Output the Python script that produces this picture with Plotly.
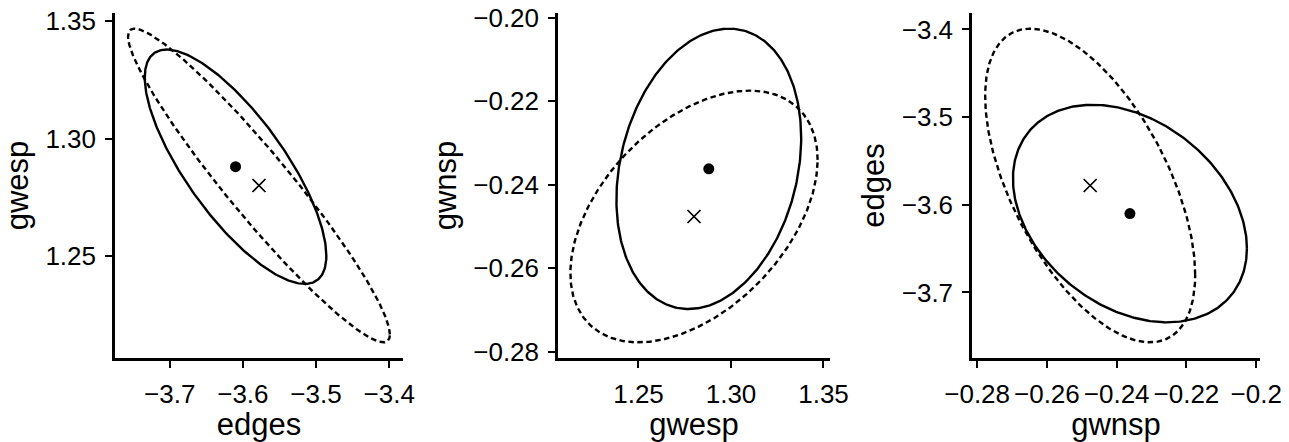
import numpy as np
import plotly.graph_objects as go

# Parameters shown in the three pairwise panels
params = ["edges", "gwesp", "gwnsp"]

# Point estimates: fitted model (filled dot, solid ellipse) and
# reference model (cross, dashed ellipse)
est_fit = [-3.610, 1.288, -0.2362]
est_ref = [-3.578, 1.280, -0.2476]

# Standard errors of each estimate
se_fit = [0.0507, 0.0204, 0.0137]
se_ref = [0.0731, 0.0273, 0.0123]

# Pairwise correlations for (edges, gwesp), (gwesp, gwnsp), (gwnsp, edges)
cor_fit = [-0.76, 0.22, -0.32]
cor_ref = [-0.95, 0.45, -0.57]

# Tick positions and labels
edges_ticks = [-3.7, -3.6, -3.5, -3.4]
edges_labels = ["\u22123.7", "\u22123.6", "\u22123.5", "\u22123.4"]
gwesp_ticks = [1.25, 1.30, 1.35]
gwesp_labels = ["1.25", "1.30", "1.35"]
gwnsp_ticks = [-0.28, -0.26, -0.24, -0.22, -0.20]
gwnsp_labels_y = ["\u22120.28", "\u22120.26", "\u22120.24", "\u22120.22", "\u22120.20"]
gwnsp_labels_x = ["\u22120.28", "\u22120.26", "\u22120.24", "\u22120.22", "\u22120.2"]

# 95% confidence level radius for a bivariate normal
LEVEL_RADIUS = np.sqrt(-2.0 * np.log(0.05))


def ellipse(center, se, rho, n=361):
    """Confidence ellipse for a pair of estimates with given SEs and correlation."""
    t = np.linspace(0, 2 * np.pi, n)
    x = center[0] + LEVEL_RADIUS * se[0] * np.cos(t)
    y = center[1] + LEVEL_RADIUS * se[1] * (rho * np.cos(t) + np.sqrt(1 - rho ** 2) * np.sin(t))
    return x, y


pairs = [(0, 1), (1, 2), (2, 0)]
x_domains = [[0.0892, 0.3126], [0.4329, 0.6439], [0.7541, 0.9775]]
y_domain = [0.190, 0.9706]

tick_info = {
    0: (edges_ticks, edges_labels, edges_labels),
    1: (gwesp_ticks, gwesp_labels, gwesp_labels),
    2: (gwnsp_ticks, gwnsp_labels_x, gwnsp_labels_y),
}

FONT = "Liberation Sans, Arial, Helvetica, sans-serif"
TICK_SIZE = 26
TITLE_SIZE = 31

fig = go.Figure()

# collect curves to derive axis ranges (5% expansion on each side)
extent = {i: [np.inf, -np.inf] for i in range(3)}

for k, (i, j) in enumerate(pairs):
    ax = "" if k == 0 else str(k + 1)
    xa, ya = "x" + ax, "y" + ax
    for center_src, se_src, cor_src, dash in [
        (est_fit, se_fit, cor_fit, "solid"),
        (est_ref, se_ref, cor_ref, "5.5px,3.5px"),
    ]:
        ex, ey = ellipse((center_src[i], center_src[j]), (se_src[i], se_src[j]), cor_src[k])
        extent[i] = [min(extent[i][0], ex.min()), max(extent[i][1], ex.max())]
        extent[j] = [min(extent[j][0], ey.min()), max(extent[j][1], ey.max())]
        fig.add_trace(go.Scatter(
            x=ex, y=ey, mode="lines", xaxis=xa, yaxis=ya,
            line=dict(color="black", width=2.4, dash=dash),
            hoverinfo="skip", showlegend=False,
        ))
    fig.add_trace(go.Scatter(
        x=[est_fit[i]], y=[est_fit[j]], mode="markers", xaxis=xa, yaxis=ya,
        marker=dict(symbol="circle", size=11, color="black"),
        showlegend=False,
    ))
    fig.add_trace(go.Scatter(
        x=[est_ref[i]], y=[est_ref[j]], mode="markers", xaxis=xa, yaxis=ya,
        marker=dict(symbol="x-thin", size=13, line=dict(color="black", width=1.7)),
        showlegend=False,
    ))


def axis_range(idx):
    lo, hi = extent[idx]
    pad = 0.05 * (hi - lo)
    return [lo - pad, hi + pad]


common = dict(
    showline=True, linecolor="black", linewidth=2.5,
    ticks="outside", ticklen=7, tickwidth=2.2, tickcolor="black",
    ticklabelstandoff=4, tickangle=0,
    showgrid=False, zeroline=False, automargin=False,
    tickfont=dict(family=FONT, size=TICK_SIZE, color="black"),
)

layout = dict(
    width=1289, height=442,
    margin=dict(l=0, r=0, t=0, b=0),
    paper_bgcolor="white", plot_bgcolor="white",
    showlegend=False,
)

for k, (i, j) in enumerate(pairs):
    sfx = "" if k == 0 else str(k + 1)
    xt, xl, _ = tick_info[i]
    yt, _, yl = tick_info[j]
    layout["xaxis" + sfx] = dict(
        common, domain=x_domains[k], range=axis_range(i),
        anchor="y" + sfx, tickvals=xt, ticktext=xl,
        title=dict(text=params[i], standoff=7,
                   font=dict(family=FONT, size=TITLE_SIZE, color="black")),
    )
    layout["yaxis" + sfx] = dict(
        common, domain=y_domain, range=axis_range(j),
        anchor="x" + sfx, tickvals=yt, ticktext=yl,
        title=dict(text=params[j], standoff=8,
                   font=dict(family=FONT, size=TITLE_SIZE, color="black")),
    )

fig.update_layout(**layout)
fig.write_html("out.html")
